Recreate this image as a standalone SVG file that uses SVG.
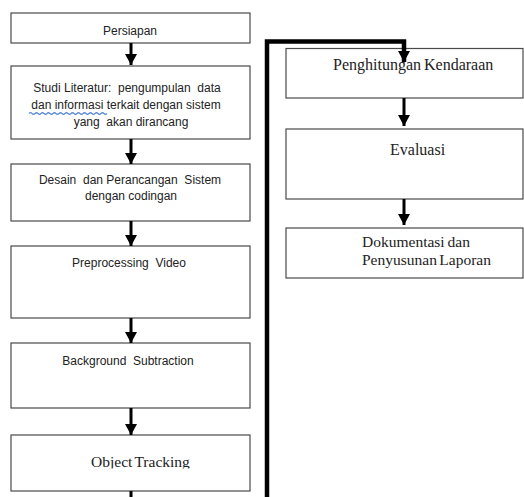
<svg xmlns="http://www.w3.org/2000/svg" width="524" height="497" viewBox="0 0 524 497">
<style>
.box{fill:#fff;stroke:#4a4a4a;stroke-width:1.2}
.sans{font-family:"Liberation Sans",Arial,sans-serif;font-size:12px;fill:#222;text-anchor:middle}
.serif{font-family:"Liberation Serif","Times New Roman",serif;font-size:16px;fill:#222}
.arr{stroke:#000;stroke-width:3;fill:none}
</style>
<defs>
<marker id="head" viewBox="0 0 11 12" refX="11" refY="6" markerWidth="11" markerHeight="12" markerUnits="userSpaceOnUse" orient="auto">
<path d="M0,0 L11,6 L0,12 z" fill="#000"/>
</marker>
<clipPath id="clipOT"><rect x="11" y="435" width="239" height="33.5"/></clipPath>
</defs>
<rect width="524" height="497" fill="#fff"/>

<g id="n1">
<rect class="box" x="11" y="13" width="239" height="30"/>
<text class="sans" x="130" y="35">Persiapan</text>
</g>
<g id="n2">
<rect class="box" x="11" y="66" width="239" height="73"/>
<text class="sans" x="127" y="92" xml:space="preserve">Studi Literatur:  pengumpulan  data</text>
<text class="sans" x="126" y="109">dan informasi terkait dengan sistem</text>
<text class="sans" x="131" y="126" xml:space="preserve">yang  akan dirancang</text>
<path d="M29,113.5 q1.5,-1.5 3,0 t3,0 t3,0 t3,0 t3,0 t3,0 t3,0 t3,0 t3,0 t3,0 t3,0 t3,0 t3,0 t3,0 t3,0 t3,0 t3,0 t3,0 t3,0 t3,0 t3,0 t3,0 t3,0 t3,0 t3,0 t3,0" fill="none" stroke="#5b8ad6" stroke-width="1.2"/>
</g>
<g id="n3">
<rect class="box" x="11" y="164" width="239" height="57"/>
<text class="sans" x="130" y="184" xml:space="preserve">Desain  dan Perancangan  Sistem</text>
<text class="sans" x="131" y="200">dengan codingan</text>
</g>
<g id="n4">
<rect class="box" x="11" y="246" width="239" height="72"/>
<text class="sans" x="129" y="267" xml:space="preserve">Preprocessing  Video</text>
</g>
<g id="n5">
<rect class="box" x="11" y="343" width="239" height="65"/>
<text class="sans" x="128" y="365" xml:space="preserve">Background  Subtraction</text>
</g>
<g id="n6">
<rect class="box" x="11" y="435" width="239" height="56"/>
<text class="serif" x="91" y="467" style="font-size:15.5px;word-spacing:-1.5px" clip-path="url(#clipOT)">Object Tracking</text>
</g>
<g id="n7">
<rect class="box" x="286" y="48.5" width="237" height="49.5"/>
<text class="serif" x="333" y="70" style="word-spacing:-1px">Penghitungan Kendaraan</text>
</g>
<g id="n8">
<rect class="box" x="286" y="129" width="237" height="70"/>
<text class="serif" x="390" y="155">Evaluasi</text>
</g>
<g id="n9">
<rect class="box" x="286" y="228" width="237" height="50"/>
<text class="serif" x="362" y="247" style="font-size:15.5px;word-spacing:-1px">Dokumentasi dan</text>
<text class="serif" x="362" y="265" style="font-size:15.5px;word-spacing:-1.5px">Penyusunan Laporan</text>
</g>

<g id="connectors">
<line class="arr" x1="131" y1="43" x2="131" y2="65" marker-end="url(#head)"/>
<line class="arr" x1="131" y1="139" x2="131" y2="164" marker-end="url(#head)"/>
<line class="arr" x1="131" y1="221" x2="131" y2="246" marker-end="url(#head)"/>
<line class="arr" x1="131" y1="318" x2="131" y2="343" marker-end="url(#head)"/>
<line class="arr" x1="131" y1="408" x2="131" y2="435" marker-end="url(#head)"/>
<line class="arr" x1="131" y1="491" x2="131" y2="497"/>
<path class="arr" d="M267,497 L267,41.5 L404,41.5 L404,62" style="stroke-width:4.5" marker-end="url(#head)"/>
<line class="arr" x1="404" y1="98" x2="404" y2="126" marker-end="url(#head)"/>
<line class="arr" x1="404" y1="199" x2="404" y2="225" marker-end="url(#head)"/>
</g>
</svg>
